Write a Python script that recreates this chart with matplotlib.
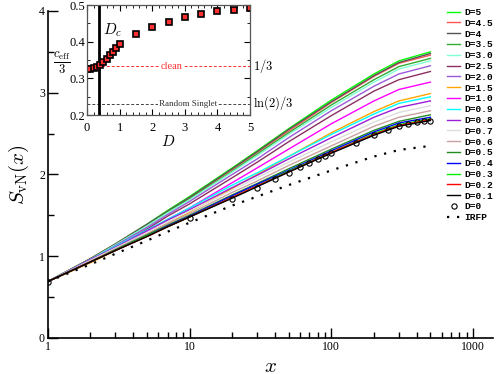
import numpy as np
import matplotlib
matplotlib.use("Agg")
import matplotlib.pyplot as plt
from matplotlib.ticker import MultipleLocator

plt.rcParams['mathtext.fontset'] = 'cm'

# ---------------- data ----------------
x_grid = [1, 2, 3, 5, 7, 10, 20, 30, 50, 100, 200, 300, 500]

labels = ["D=5", "D=4.5", "D=4", "D=3.5", "D=3.0", "D=2.5", "D=2.0", "D=1.5",
          "D=1.0", "D=0.9", "D=0.8", "D=0.7", "D=0.6", "D=0.5", "D=0.4",
          "D=0.3", "D=0.2", "D=0.1"]
colors = ["#00ff00", "#ff5555", "#555555", "#33aa33", "#7fffd4", "#8b2f62",
          "#9a5ad8", "#ffa500", "#ff00ff", "#00ffff", "#9b1fd6", "#dddddd",
          "#c8a0a0", "#228b22", "#0000ff", "#00ee00", "#ff0000", "#000000"]

S_D5  = [0.69, 0.97, 1.15, 1.39, 1.56, 1.73, 2.08, 2.29, 2.56, 2.91, 3.23, 3.39, 3.50]
S_D45 = [0.69, 0.97, 1.15, 1.38, 1.55, 1.71, 2.06, 2.27, 2.53, 2.88, 3.20, 3.36, 3.46]
S_D4  = [0.69, 0.97, 1.15, 1.39, 1.55, 1.72, 2.07, 2.28, 2.55, 2.89, 3.21, 3.37, 3.48]
S_D35 = [0.69, 0.96, 1.14, 1.37, 1.54, 1.70, 2.04, 2.25, 2.51, 2.85, 3.16, 3.32, 3.42]
S_D30 = [0.69, 0.96, 1.14, 1.37, 1.53, 1.69, 2.03, 2.23, 2.49, 2.82, 3.13, 3.29, 3.39]
S_D25 = [0.69, 0.95, 1.11, 1.33, 1.49, 1.64, 1.96, 2.15, 2.40, 2.72, 3.02, 3.16, 3.26]
S_D20 = [0.69, 0.95, 1.13, 1.35, 1.51, 1.67, 2.00, 2.19, 2.45, 2.78, 3.08, 3.23, 3.33]
S_D15 = [0.69, 0.92, 1.07, 1.27, 1.40, 1.54, 1.83, 2.00, 2.22, 2.51, 2.77, 2.90, 2.99]
S_D10 = [0.69, 0.93, 1.09, 1.30, 1.45, 1.59, 1.90, 2.08, 2.31, 2.62, 2.90, 3.04, 3.13]
S_D09 = [0.69, 0.96, 1.12, 1.32, 1.45, 1.59, 1.87, 2.02, 2.22, 2.49, 2.74, 2.87, 2.95]
S_D08 = [0.69, 0.96, 1.11, 1.31, 1.44, 1.57, 1.84, 1.99, 2.19, 2.45, 2.70, 2.82, 2.90]
S_D07 = [0.69, 0.95, 1.10, 1.29, 1.42, 1.55, 1.81, 1.96, 2.15, 2.40, 2.64, 2.76, 2.84]
S_D06 = [0.69, 0.94, 1.09, 1.27, 1.40, 1.52, 1.78, 1.92, 2.11, 2.35, 2.59, 2.70, 2.78]
S_D05 = [0.69, 0.93, 1.08, 1.26, 1.38, 1.50, 1.75, 1.89, 2.07, 2.31, 2.54, 2.65, 2.73]
S_D04 = [0.69, 0.93, 1.07, 1.25, 1.37, 1.49, 1.74, 1.88, 2.05, 2.29, 2.52, 2.63, 2.70]
S_D03 = [0.69, 0.93, 1.07, 1.25, 1.36, 1.48, 1.72, 1.86, 2.04, 2.27, 2.50, 2.61, 2.68]
S_D02 = [0.69, 0.93, 1.07, 1.24, 1.36, 1.48, 1.72, 1.86, 2.03, 2.27, 2.49, 2.60, 2.67]
S_D01 = [0.69, 0.93, 1.07, 1.24, 1.36, 1.48, 1.71, 1.85, 2.03, 2.26, 2.48, 2.59, 2.66]

series = [S_D5, S_D45, S_D4, S_D35, S_D30, S_D25, S_D20, S_D15, S_D10, S_D09,
          S_D08, S_D07, S_D06, S_D05, S_D04, S_D03, S_D02, S_D01]

x_D0 = [1, 10, 20, 30, 40, 50, 60, 70, 80, 90, 100, 150, 200, 250, 300, 350, 400, 450, 500]
S_D0 = [0.69, 1.47, 1.70, 1.84, 1.94, 2.02, 2.09, 2.14, 2.19, 2.23, 2.26, 2.39, 2.48, 2.54,
        2.59, 2.62, 2.64, 2.65, 2.66]

S_IRFP = [0.69, 0.90, 1.03, 1.19, 1.30, 1.41, 1.62, 1.73, 1.87, 2.05, 2.22, 2.30, 2.35]

# inset data
D_vals = [0, 0.1, 0.2, 0.3, 0.4, 0.5, 0.6, 0.7, 0.8, 0.9, 1.0, 1.5, 2.0, 2.5, 3.0, 3.5, 4.0, 4.5, 5.0]
ceff3 = [0.326, 0.326, 0.327, 0.330, 0.336, 0.345, 0.354, 0.363, 0.373, 0.384, 0.393,
         0.421, 0.440, 0.455, 0.468, 0.475, 0.484, 0.486, 0.491]
ceff3_err = [0.002, 0.002, 0.002, 0.002, 0.002, 0.002, 0.002, 0.002, 0.002, 0.002, 0.002,
             0.003, 0.003, 0.004, 0.004, 0.005, 0.006, 0.006, 0.006]
D_c = 0.37
clean_val = 1.0 / 3.0
rs_val = np.log(2) / 3.0

# ---------------- figure ----------------
fig = plt.figure(figsize=(4.98, 3.74), dpi=100)
ax = fig.add_axes([0.0958, 0.0963, 0.894, 0.8743])

handles = []
for lab, col, s in zip(labels, colors, series):
    h, = ax.plot(x_grid, s, color=col, lw=1.0, label=lab)
    handles.append(h)
h0, = ax.plot(x_D0, S_D0, ls='none', marker='o', ms=3.8, mfc='none', mec='black',
              mew=0.8, label="D=0")
handles.append(h0)
hi, = ax.plot(x_grid, S_IRFP, color='black', lw=1.6, ls=(0, (1, 3.5)), label="IRFP")
handles.append(hi)

ax.set_xscale('log')
ax.set_xlim(1, 1380)
ax.set_ylim(0, 4)
for sp in ['top', 'right']:
    ax.spines[sp].set_visible(False)
ax.spines['left'].set_linewidth(1.2)
ax.spines['bottom'].set_linewidth(1.2)

ax.set_xticks([1, 10, 100, 1000])
ax.set_xticklabels(["1", "10", "100", "1000"])
ax.set_yticks([0, 1, 2, 3, 4])
ax.yaxis.set_minor_locator(MultipleLocator(0.5))
ax.tick_params(which='major', direction='in', length=7, width=1.0, labelsize=8.5, pad=2)
ax.tick_params(which='minor', direction='in', length=4, width=1.0)
for t in ax.get_xticklabels() + ax.get_yticklabels():
    t.set_fontfamily('Liberation Serif')

ax.set_xlabel(r"$x$", fontsize=15, labelpad=2)
ax.set_ylabel(r"$S_{\rm vN}(x)$", fontsize=15, labelpad=6)

leg = ax.legend(handles=handles, loc='upper left', bbox_to_anchor=(447 / 498, 1 - 8 / 374),
                bbox_transform=fig.transFigure, frameon=False,
                prop={'family': 'Liberation Mono', 'weight': 'bold', 'size': 6.8},
                handlelength=1.4, handletextpad=0.4, labelspacing=0.19, borderpad=0,
                borderaxespad=0)

# ---------------- inset ----------------
ins = fig.add_axes([87 / 498, 1 - 115 / 374, (250 - 87) / 498, (115 - 5) / 374])
ins.errorbar(D_vals, ceff3, yerr=ceff3_err, fmt='s', ms=3.8, mfc='#ff3030', mec='black',
             mew=1.2, ecolor='black', elinewidth=0.7, capsize=1.5)
ins.axhline(clean_val, color='#ff3030', ls=(0, (3, 2)), lw=0.7)
ins.axhline(rs_val, color='#444444', ls=(0, (3, 2)), lw=0.7)
ins.axvline(D_c, color='black', lw=2.0)
ins.set_xlim(0, 5)
ins.set_ylim(0.2, 0.5)
ins.set_xticks([0, 1, 2, 3, 4, 5])
ins.set_yticks([0.2, 0.3, 0.4, 0.5])
ins.xaxis.set_minor_locator(MultipleLocator(0.2))
ins.yaxis.set_minor_locator(MultipleLocator(0.05))
ins.tick_params(which='both', direction='in', top=True, right=True, labelsize=9, pad=1)
ins.tick_params(axis='x', which='both', pad=5)
ins.tick_params(which='major', length=4, width=0.8)
ins.tick_params(which='minor', length=2, width=0.6)
for t in ins.get_xticklabels() + ins.get_yticklabels():
    t.set_fontfamily('Liberation Serif')
for sp in ins.spines.values():
    sp.set_linewidth(0.9)
    sp.set_color('#555555')
ins.set_xlabel(r"$D$", fontsize=11, labelpad=0)
fig.text(62 / 498, 1 - 63 / 374, r"$\frac{c_{\rm eff}}{3}$", fontsize=13,
         ha='center', va='center')
ins.text(D_c + 0.12, 0.43, r"$D_c$", fontsize=11, ha='left', va='center')
ins.text(2.6, clean_val, "clean", color='#ff3030', fontsize=7.5, family='Liberation Serif',
         ha='center', va='center', bbox=dict(facecolor='white', edgecolor='none', pad=0.5))
ins.text(3.1, rs_val, "Random Singlet", color='#333333', fontsize=6.5,
         family='Liberation Serif', ha='center', va='center',
         bbox=dict(facecolor='white', edgecolor='none', pad=0.5))
ins.text(1.02, clean_val, r"$1/3$", transform=ins.get_yaxis_transform(), fontsize=9,
         ha='left', va='center')
ins.text(1.02, rs_val, r"$\ln(2)/3$", transform=ins.get_yaxis_transform(), fontsize=9,
         ha='left', va='center')

fig.savefig("out.png", dpi=100)
